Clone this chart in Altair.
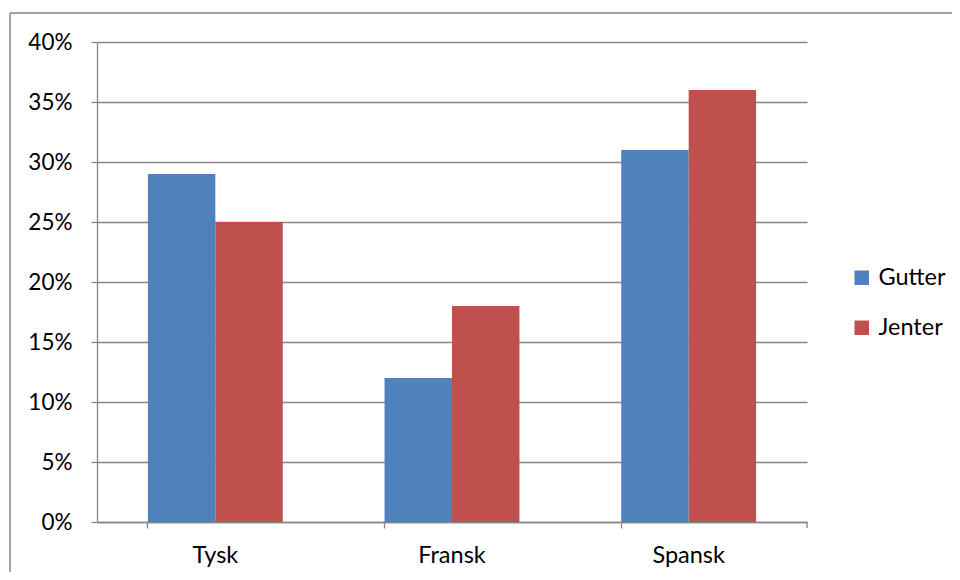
import altair as alt
import pandas as pd

categories = ["Tysk", "Fransk", "Spansk"]
series = ["Gutter", "Jenter"]
gutter = [0.29, 0.12, 0.31]
jenter = [0.25, 0.18, 0.36]
colors = ["#4F81BD", "#C0504D"]

rows = []
for i, c in enumerate(categories):
    rows.append({"sprak": c, "kjonn": "Gutter", "andel": gutter[i]})
    rows.append({"sprak": c, "kjonn": "Jenter", "andel": jenter[i]})
df = pd.DataFrame(rows)

FONT = "Lato"
GRAY = "#868686"

bars = alt.Chart(df).mark_bar(stroke=None).encode(
    x=alt.X("sprak:N", sort=categories, title=None,
            scale=alt.Scale(paddingInner=0.43, paddingOuter=0.215),
            axis=alt.Axis(bandPosition=0, labelAngle=0, labelFontSize=23.5, labelFont=FONT,
                          labelColor="#000000", labelPadding=15, tickSize=6, tickColor=GRAY,
                          domainColor=GRAY, domainWidth=1.3, tickWidth=1.3, grid=False)),
    xOffset=alt.XOffset("kjonn:N", sort=series, scale=alt.Scale(paddingInner=0, paddingOuter=0)),
    y=alt.Y("andel:Q", title=None,
            scale=alt.Scale(domain=[0, 0.4], nice=False),
            axis=alt.Axis(format=".0%", values=[0, 0.05, 0.1, 0.15, 0.2, 0.25, 0.3, 0.35, 0.4],
                          labelFontSize=22.5, labelFont=FONT, labelColor="#000000",
                          labelPadding=19, tickSize=6, tickColor=GRAY, tickWidth=1.3,
                          domainColor=GRAY, domainWidth=1.3, gridColor=GRAY, gridWidth=1.3)),
    color=alt.Color("kjonn:N", sort=series, title=None,
                    scale=alt.Scale(domain=series, range=colors),
                    legend=alt.Legend(orient="none", legendX=753, legendY=224,
                                      symbolType="square", symbolSize=210, symbolStrokeWidth=0,
                                      labelFontSize=23.5, labelFont=FONT, labelColor="#000000",
                                      rowPadding=25, labelOffset=5)),
)

end_tick = alt.Chart(pd.DataFrame({"v": [0]})).mark_rule(color=GRAY, strokeWidth=1.3).encode(
    x=alt.value(710), y=alt.value(480), y2=alt.value(486)
)
frame_left = alt.Chart(pd.DataFrame({"v": [0]})).mark_rule(color=GRAY, strokeWidth=1.5).encode(
    x=alt.value(-87), y=alt.value(-29), y2=alt.value(560)
)
frame_top = alt.Chart(pd.DataFrame({"v": [0]})).mark_rule(color=GRAY, strokeWidth=1.5).encode(
    x=alt.value(-87), x2=alt.value(900), y=alt.value(-29)
)

chart = alt.layer(bars, end_tick, frame_left, frame_top).properties(
    width=710, height=480,
    padding={"left": 89, "top": 34, "right": 145, "bottom": 50},
    autosize=alt.AutoSizeParams(type="none"),
).configure_view(stroke=None)

chart.save("out.html", embed_options={"renderer": "svg", "actions": False})
